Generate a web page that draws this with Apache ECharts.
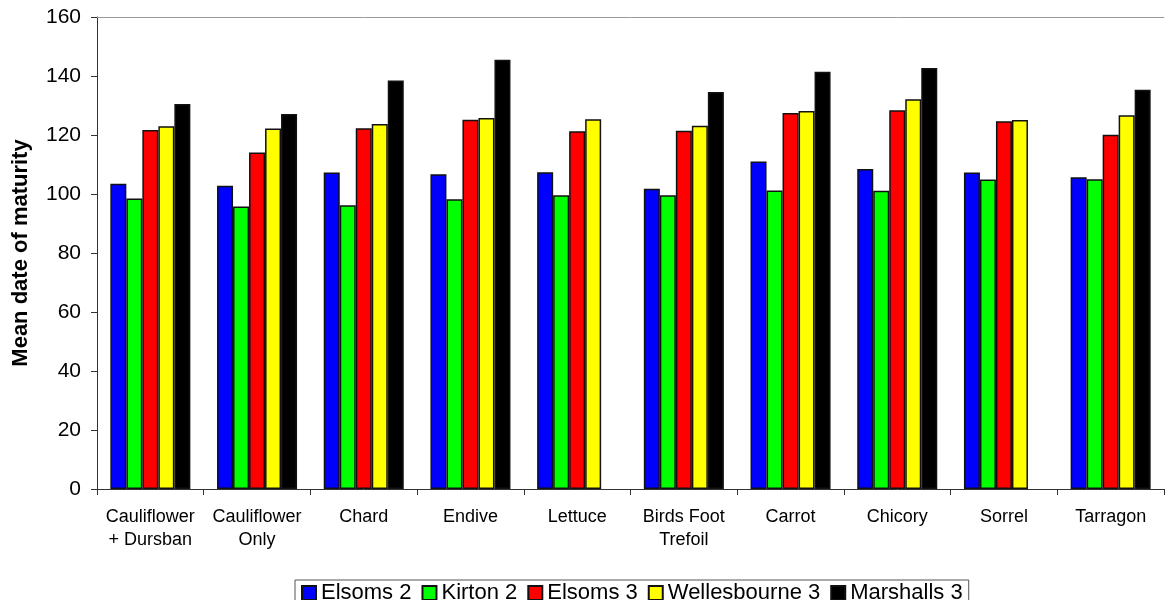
<!DOCTYPE html>
<html>
<head>
<meta charset="utf-8">
<script src="https://cdn.jsdelivr.net/npm/echarts@6/dist/echarts.min.js"></script>
<style>
  html, body { margin: 0; padding: 0; background: #fff; }
  #chart { width: 1166px; height: 600px; }
</style>
</head>
<body>
<div id="chart"></div>
<script>
// Crops and treatments
const categories = [
  'Cauliflower\n+ Dursban', 'Cauliflower\nOnly', 'Chard', 'Endive', 'Lettuce',
  'Birds Foot\nTrefoil', 'Carrot', 'Chicory', 'Sorrel', 'Tarragon'
];
const seriesNames = ['Elsoms 2', 'Kirton 2', 'Elsoms 3', 'Wellesbourne 3', 'Marshalls 3'];
const seriesColors = ['#0000ff', '#00ff00', '#ff0000', '#ffff00', '#000000'];

// Mean date of maturity per site
const elsoms2       = [103.5, 102.8, 107.3, 106.7, 107.4, 101.8, 111.0, 108.5, 107.3, 105.7];
const kirton2       = [98.5, 95.8, 96.2, 98.2, 99.6, 99.6, 101.2, 101.1, 104.9, 105.0];
const elsoms3       = [121.7, 114.1, 122.3, 125.2, 121.3, 121.4, 127.5, 128.4, 124.7, 120.1];
const wellesbourne3 = [123.0, 122.2, 123.7, 125.8, 125.3, 123.1, 128.1, 132.1, 125.1, 126.7];
const marshalls3    = [130.5, 127.1, 138.5, 145.5, null, 134.6, 141.4, 142.7, null, 135.3];

const yTicks = { min: 0, max: 160, interval: 20 };

const seriesData = [elsoms2, kirton2, elsoms3, wellesbourne3, marshalls3];
const FONT = '"Liberation Sans", Arial, sans-serif';

const chart = echarts.init(document.getElementById('chart'), null, { renderer: 'canvas' });
chart.setOption({
  animation: false,
  backgroundColor: '#ffffff',
  textStyle: { fontFamily: FONT },
  grid: { left: 97, right: 2, top: 17, bottom: 111, containLabel: false, outerBoundsMode: 'none' },
  legend: {
    data: seriesNames,
    top: 580,
    left: 295,
    itemWidth: 14,
    itemHeight: 14,
    itemGap: 10,
    padding: [2, 6, 2, 6],
    borderColor: '#555',
    borderWidth: 1,
    icon: 'rect',
    textStyle: { fontFamily: FONT, fontSize: 22, color: '#000' }
  },
  xAxis: [{
    type: 'category',
    data: categories,
    axisLine: { lineStyle: { color: '#333', width: 1 } },
    axisTick: { show: true, alignWithLabel: false, length: 6, inside: false, lineStyle: { color: '#333' } },
    axisLabel: { fontFamily: FONT, fontSize: 18, color: '#000', margin: 17, lineHeight: 23, interval: 0 },
    splitLine: { show: false }
  }, {
    type: 'category',
    position: 'top',
    data: categories,
    axisLine: { show: true, lineStyle: { color: '#999', width: 1 } },
    axisTick: { show: false },
    axisLabel: { show: false }
  }],
  yAxis: {
    type: 'value',
    min: yTicks.min,
    max: yTicks.max,
    interval: yTicks.interval,
    name: 'Mean date of maturity',
    nameLocation: 'middle',
    nameGap: 65,
    nameTextStyle: { fontFamily: FONT, fontSize: 22, fontWeight: 'bold', color: '#000' },
    axisLine: { show: true, lineStyle: { color: '#333', width: 1 } },
    axisTick: { show: true, length: 6, lineStyle: { color: '#333' } },
    axisLabel: { fontFamily: FONT, fontSize: 21, color: '#000', margin: 16 },
    splitLine: { show: false }
  },
  series: seriesNames.map((name, i) => ({
    name,
    type: 'bar',
    xAxisIndex: 0,
    data: seriesData[i],
    barGap: '0%',
    barCategoryGap: '25%',
    itemStyle: { color: seriesColors[i], borderColor: '#111', borderWidth: 1.5 }
  }))
});
</script>
</body>
</html>
